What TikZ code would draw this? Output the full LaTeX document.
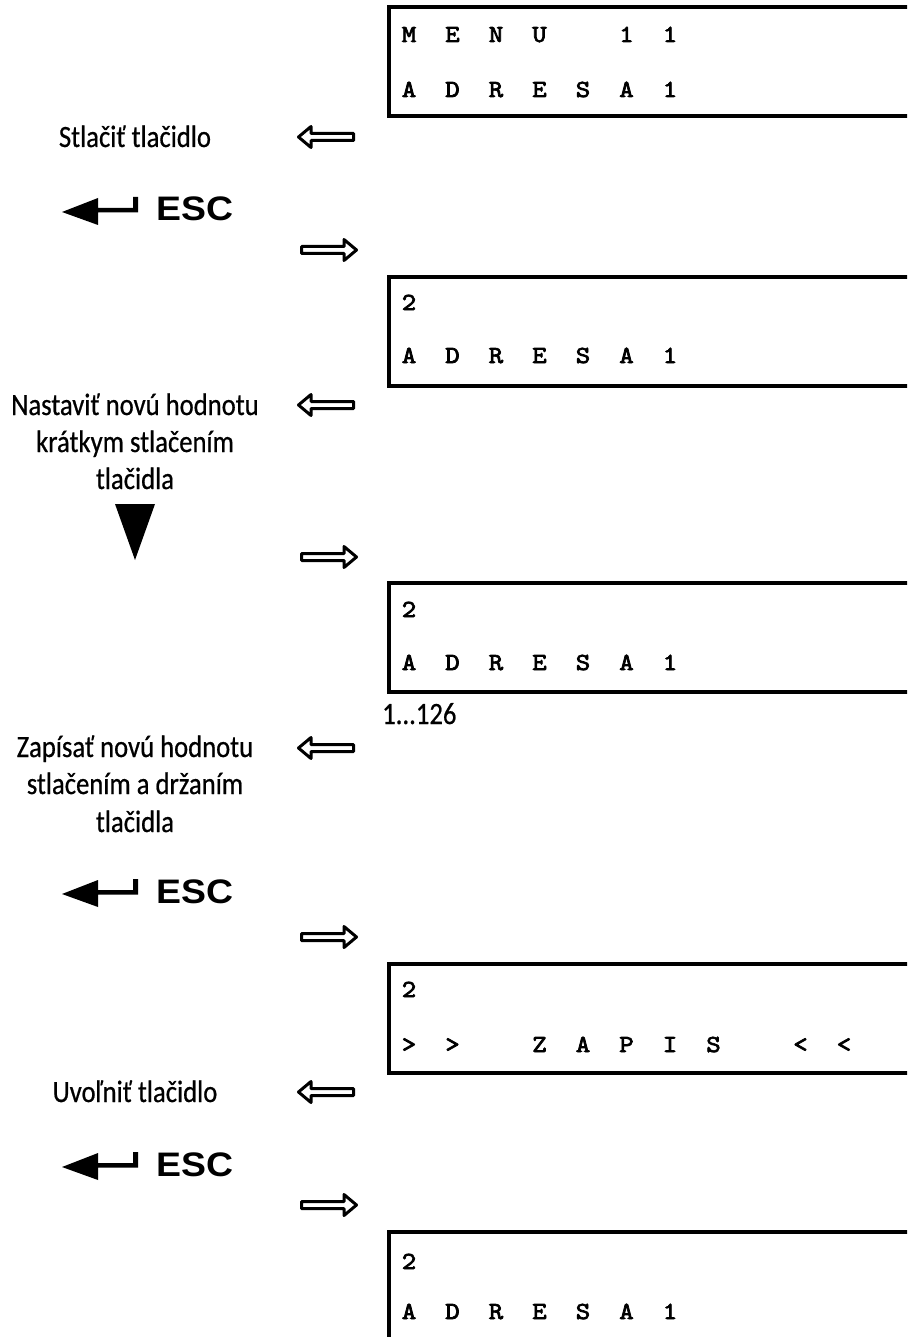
\documentclass[tikz,border=0pt]{standalone}
\usepackage{fontspec}
\setmainfont{Carlito}
\newfontfamily\lblfont{Carlito}[FakeStretch=0.86,FakeBold=0.6]
\newfontfamily\escfont{Liberation Sans}[FakeStretch=1.1]
\newfontfamily\lcdfont{lmmono10-regular.otf}[FakeBold=3,FakeStretch=1.12]
\tikzset{
 lcdbox/.style={draw, line width=4pt, minimum width=560pt, minimum height=109pt, anchor=north west, inner sep=0pt, outer sep=0pt},
 lcdch/.style={font=\lcdfont\fontsize{24.5}{24.5}\selectfont, anchor=base, inner sep=0pt},
 lbl/.style={font=\lblfont\fontsize{31}{37}\selectfont, anchor=base, inner sep=0pt},
 esctxt/.style={font=\escfont\bfseries\fontsize{34}{34}\selectfont, anchor=base west, inner sep=0pt},
 hollow/.style={draw, line width=3pt, line join=round, fill=white},
 larr/.pic={\draw[hollow] (-27.5,0) -- (-15,-10.5) -- (-15,-3.5) -- (27.5,-3.5) -- (27.5,3.5) -- (-15,3.5) -- (-15,10.5) -- cycle;},
 rarr/.pic={\draw[hollow] (27.5,0) -- (15,-10.5) -- (15,-3.5) -- (-27.5,-3.5) -- (-27.5,3.5) -- (15,3.5) -- (15,10.5) -- cycle;},
 escicon/.pic={\fill (62,14) -- (98,0) -- (98,10) -- (133,10) -- (133,-1) -- (138,-1) -- (138,14.5) -- (98,14.5) -- (98,27) -- cycle;},
}
\newcommand\lcdrow[3]{%
 \foreach \ch [count=\i from 0] in {#3} {\node[lcdch] (#1-\i) at (409+43.5*\i, #2) {\ch};}}
\begin{document}
\begin{tikzpicture}[x=1pt,y=-1pt]
\useasboundingbox (0,0) rectangle (907,1337);
\clip (0,0) rectangle (907,1337);

% LCD boxes
\node[lcdbox] (box1) at (389,7) {};
\node[lcdbox] (box2) at (389,277) {};
\node[lcdbox] (box3) at (389,583) {};
\node[lcdbox] (box4) at (389,964) {};
\node[lcdbox] (box5) at (389,1232) {};

\lcdrow{b1r1}{42}{M,E,N,U,,1,1}
\lcdrow{b1r2}{97}{A,D,R,E,S,A,1}
\lcdrow{b2r1}{310}{2}
\lcdrow{b2r2}{363}{A,D,R,E,S,A,1}
\lcdrow{b3r1}{617}{2}
\lcdrow{b3r2}{670}{A,D,R,E,S,A,1}
\lcdrow{b4r1}{997}{2}
\lcdrow{b4r2}{1052}{>,>,,Z,A,P,I,S,,<,<}
\lcdrow{b5r1}{1269}{2}
\lcdrow{b5r2}{1319}{A,D,R,E,S,A,1}

\node[lbl, anchor=base west] (range) at (382,724) {1...126};

% labels
\node[lbl] (l1) at (135,147) {Stlačiť tlačidlo};
\node[lbl] (l2a) at (135,415) {Nastaviť novú hodnotu};
\node[lbl] (l2b) at (135,452) {krátkym stlačením};
\node[lbl] (l2c) at (135,489) {tlačidla};
\node[lbl] (l3a) at (135,757) {Zapísať novú hodnotu};
\node[lbl] (l3b) at (135,794) {stlačením a držaním};
\node[lbl] (l3c) at (135,832) {tlačidla};
\node[lbl] (l4) at (135,1102) {Uvoľniť tlačidlo};

% ESC keys
\pic at (0,198) {escicon};
\node[esctxt] (esc1) at (156,221) {ESC};
\pic at (0,880) {escicon};
\node[esctxt] (esc2) at (156,903) {ESC};
\pic at (0,1153) {escicon};
\node[esctxt] (esc3) at (156,1176) {ESC};

% down triangle
\fill (115,504) -- (155,504) -- (135,560) -- cycle;

% hollow arrows
\pic at (326,137) {larr};
\pic at (329,250) {rarr};
\pic at (326,405) {larr};
\pic at (329,557) {rarr};
\pic at (326,748) {larr};
\pic at (329,937) {rarr};
\pic at (326,1092) {larr};
\pic at (329,1205) {rarr};
\end{tikzpicture}
\end{document}
